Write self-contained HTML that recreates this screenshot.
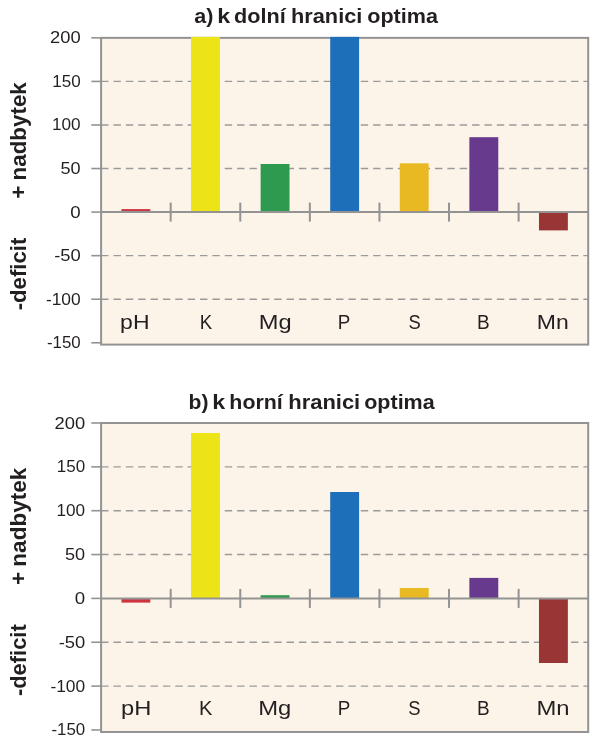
<!DOCTYPE html>
<html lang="cs">
<head>
<meta charset="utf-8">
<title>Graf</title>
<style>
html,body{margin:0;padding:0;background:#fff;}
svg{display:block;}
text{font-family:"Liberation Sans",sans-serif;fill:#231F20;}
.tk{font-size:16.4px;}
.xl{font-size:20.9px;}
.tt{font-size:20.5px;font-weight:bold;}
.yl{font-size:22.0px;font-weight:bold;}
</style>
</head>
<body>
<svg width="600" height="743" viewBox="0 0 600 743">
<rect x="0" y="0" width="600" height="743" fill="#ffffff"/>
<rect x="101.1" y="37.86" width="487.10" height="306.74" fill="#FCF4E9"/>
<line x1="101.1" y1="81.42" x2="588.2" y2="81.42" stroke="#9A9A9A" stroke-width="1.4" stroke-dasharray="7.4 4.966"/>
<line x1="101.1" y1="124.98" x2="588.2" y2="124.98" stroke="#9A9A9A" stroke-width="1.4" stroke-dasharray="7.4 4.966"/>
<line x1="101.1" y1="168.54" x2="588.2" y2="168.54" stroke="#9A9A9A" stroke-width="1.4" stroke-dasharray="7.4 4.966"/>
<line x1="101.1" y1="255.66" x2="588.2" y2="255.66" stroke="#9A9A9A" stroke-width="1.4" stroke-dasharray="7.4 4.966"/>
<line x1="101.1" y1="299.22" x2="588.2" y2="299.22" stroke="#9A9A9A" stroke-width="1.4" stroke-dasharray="7.4 4.966"/>
<rect x="101.1" y="37.86" width="487.10" height="306.74" fill="none" stroke="#939393" stroke-width="2"/>
<line x1="91.3" y1="37.86" x2="101.1" y2="37.86" stroke="#939393" stroke-width="1.6"/>
<line x1="91.3" y1="81.42" x2="101.1" y2="81.42" stroke="#939393" stroke-width="1.6"/>
<line x1="91.3" y1="124.98" x2="101.1" y2="124.98" stroke="#939393" stroke-width="1.6"/>
<line x1="91.3" y1="168.54" x2="101.1" y2="168.54" stroke="#939393" stroke-width="1.6"/>
<line x1="91.3" y1="212.10" x2="101.1" y2="212.10" stroke="#939393" stroke-width="1.6"/>
<line x1="91.3" y1="255.66" x2="101.1" y2="255.66" stroke="#939393" stroke-width="1.6"/>
<line x1="91.3" y1="299.22" x2="101.1" y2="299.22" stroke="#939393" stroke-width="1.6"/>
<line x1="91.3" y1="342.78" x2="101.1" y2="342.78" stroke="#939393" stroke-width="1.6"/>
<rect x="121.44" y="209.10" width="28.9" height="3.00" fill="#CE3440"/>
<rect x="191.03" y="36.90" width="28.9" height="175.20" fill="#ECE416"/>
<rect x="260.61" y="164.00" width="28.9" height="48.10" fill="#2E9A50"/>
<rect x="330.20" y="36.90" width="28.9" height="175.20" fill="#1C6FB8"/>
<rect x="399.79" y="163.30" width="28.9" height="48.80" fill="#E9B924"/>
<rect x="469.37" y="137.20" width="28.9" height="74.90" fill="#673A8E"/>
<rect x="538.96" y="212.10" width="28.9" height="18.30" fill="#993534"/>
<line x1="101.1" y1="212.10" x2="588.2" y2="212.10" stroke="#939393" stroke-width="2"/>
<line x1="170.69" y1="202.60" x2="170.69" y2="221.60" stroke="#939393" stroke-width="2"/>
<line x1="240.27" y1="202.60" x2="240.27" y2="221.60" stroke="#939393" stroke-width="2"/>
<line x1="309.86" y1="202.60" x2="309.86" y2="221.60" stroke="#939393" stroke-width="2"/>
<line x1="379.44" y1="202.60" x2="379.44" y2="221.60" stroke="#939393" stroke-width="2"/>
<line x1="449.03" y1="202.60" x2="449.03" y2="221.60" stroke="#939393" stroke-width="2"/>
<line x1="518.61" y1="202.60" x2="518.61" y2="221.60" stroke="#939393" stroke-width="2"/>
<rect x="101.1" y="423.00" width="487.10" height="309.00" fill="#FCF4E9"/>
<line x1="101.1" y1="466.85" x2="588.2" y2="466.85" stroke="#9A9A9A" stroke-width="1.4" stroke-dasharray="7.4 4.966"/>
<line x1="101.1" y1="510.70" x2="588.2" y2="510.70" stroke="#9A9A9A" stroke-width="1.4" stroke-dasharray="7.4 4.966"/>
<line x1="101.1" y1="554.55" x2="588.2" y2="554.55" stroke="#9A9A9A" stroke-width="1.4" stroke-dasharray="7.4 4.966"/>
<line x1="101.1" y1="642.25" x2="588.2" y2="642.25" stroke="#9A9A9A" stroke-width="1.4" stroke-dasharray="7.4 4.966"/>
<line x1="101.1" y1="686.10" x2="588.2" y2="686.10" stroke="#9A9A9A" stroke-width="1.4" stroke-dasharray="7.4 4.966"/>
<rect x="101.1" y="423.00" width="487.10" height="309.00" fill="none" stroke="#939393" stroke-width="2"/>
<line x1="91.3" y1="423.00" x2="101.1" y2="423.00" stroke="#939393" stroke-width="1.6"/>
<line x1="91.3" y1="466.85" x2="101.1" y2="466.85" stroke="#939393" stroke-width="1.6"/>
<line x1="91.3" y1="510.70" x2="101.1" y2="510.70" stroke="#939393" stroke-width="1.6"/>
<line x1="91.3" y1="554.55" x2="101.1" y2="554.55" stroke="#939393" stroke-width="1.6"/>
<line x1="91.3" y1="598.40" x2="101.1" y2="598.40" stroke="#939393" stroke-width="1.6"/>
<line x1="91.3" y1="642.25" x2="101.1" y2="642.25" stroke="#939393" stroke-width="1.6"/>
<line x1="91.3" y1="686.10" x2="101.1" y2="686.10" stroke="#939393" stroke-width="1.6"/>
<line x1="91.3" y1="729.95" x2="101.1" y2="729.95" stroke="#939393" stroke-width="1.6"/>
<rect x="121.44" y="598.40" width="28.9" height="4.20" fill="#CE3440"/>
<rect x="191.03" y="433.00" width="28.9" height="165.40" fill="#ECE416"/>
<rect x="260.61" y="595.20" width="28.9" height="3.20" fill="#2E9A50"/>
<rect x="330.20" y="492.00" width="28.9" height="106.40" fill="#1C6FB8"/>
<rect x="399.79" y="588.00" width="28.9" height="10.40" fill="#E9B924"/>
<rect x="469.37" y="577.90" width="28.9" height="20.50" fill="#673A8E"/>
<rect x="538.96" y="598.40" width="28.9" height="64.60" fill="#993534"/>
<line x1="101.1" y1="598.40" x2="588.2" y2="598.40" stroke="#939393" stroke-width="2"/>
<line x1="170.69" y1="588.90" x2="170.69" y2="607.90" stroke="#939393" stroke-width="2"/>
<line x1="240.27" y1="588.90" x2="240.27" y2="607.90" stroke="#939393" stroke-width="2"/>
<line x1="309.86" y1="588.90" x2="309.86" y2="607.90" stroke="#939393" stroke-width="2"/>
<line x1="379.44" y1="588.90" x2="379.44" y2="607.90" stroke="#939393" stroke-width="2"/>
<line x1="449.03" y1="588.90" x2="449.03" y2="607.90" stroke="#939393" stroke-width="2"/>
<line x1="518.61" y1="588.90" x2="518.61" y2="607.90" stroke="#939393" stroke-width="2"/>
<text class="tk" transform="translate(50.02 43.26) scale(1.1208 1)">200</text>
<text class="tk" transform="translate(54.52 428.50) scale(1.1208 1)">200</text>
<text class="tk" transform="translate(52.20 86.82) scale(1.0392 1)">150</text>
<text class="tk" transform="translate(56.70 472.35) scale(1.0392 1)">150</text>
<text class="tk" transform="translate(51.99 130.38) scale(1.0471 1)">100</text>
<text class="tk" transform="translate(56.49 516.20) scale(1.0471 1)">100</text>
<text class="tk" transform="translate(60.51 173.94) scale(1.1059 1)">50</text>
<text class="tk" transform="translate(65.01 560.05) scale(1.1059 1)">50</text>
<text class="tk" transform="translate(70.20 217.50) scale(1.1400 1)">0</text>
<text class="tk" transform="translate(74.70 603.90) scale(1.1400 1)">0</text>
<text class="tk" transform="translate(54.16 261.06) scale(1.1236 1)">-50</text>
<text class="tk" transform="translate(58.66 647.75) scale(1.1236 1)">-50</text>
<text class="tk" transform="translate(45.90 304.62) scale(1.0614 1)">-100</text>
<text class="tk" transform="translate(50.40 691.60) scale(1.0614 1)">-100</text>
<text class="tk" transform="translate(46.93 348.18) scale(1.0295 1)">-150</text>
<text class="tk" transform="translate(51.43 735.45) scale(1.0295 1)">-150</text>
<text class="xl" transform="translate(120.09 328.80) scale(1.1005 1)">pH</text>
<text class="xl" transform="translate(199.84 328.80) scale(0.8926 1)">K</text>
<text class="xl" transform="translate(258.72 328.80) scale(1.1324 1)">Mg</text>
<text class="xl" transform="translate(337.73 328.80) scale(0.8989 1)">P</text>
<text class="xl" transform="translate(408.49 328.80) scale(0.8800 1)">S</text>
<text class="xl" transform="translate(477.11 328.80) scale(0.9079 1)">B</text>
<text class="xl" transform="translate(536.77 328.80) scale(1.1014 1)">Mn</text>
<text class="xl" transform="translate(121.04 715.30) scale(1.1344 1)">pH</text>
<text class="xl" transform="translate(198.92 715.30) scale(0.9600 1)">K</text>
<text class="xl" transform="translate(258.26 715.30) scale(1.1400 1)">Mg</text>
<text class="xl" transform="translate(337.73 715.30) scale(0.8989 1)">P</text>
<text class="xl" transform="translate(408.14 715.30) scale(0.8800 1)">S</text>
<text class="xl" transform="translate(477.11 715.30) scale(0.9079 1)">B</text>
<text class="xl" transform="translate(536.41 715.30) scale(1.1400 1)">Mn</text>
<text class="tt" transform="translate(194.34 23.10) scale(1.0526 1)">a)</text>
<text class="tt" transform="translate(217.13 23.10) scale(1.1400 1)">k</text>
<text class="tt" transform="translate(234.08 23.10) scale(1.0550 1)">dolní</text>
<text class="tt" transform="translate(291.04 23.10) scale(1.0610 1)">hranici</text>
<text class="tt" transform="translate(367.21 23.10) scale(1.0526 1)">optima</text>
<text class="tt" transform="translate(188.58 409.30) scale(1.0294 1)">b)</text>
<text class="tt" transform="translate(212.33 409.30) scale(1.1400 1)">k</text>
<text class="tt" transform="translate(229.37 409.30) scale(1.0422 1)">horní</text>
<text class="tt" transform="translate(288.23 409.30) scale(1.0718 1)">hranici</text>
<text class="tt" transform="translate(364.21 409.30) scale(1.0496 1)">optima</text>
<text class="yl" transform="translate(26.20 310.28) rotate(-90) scale(1.0070 1)">-deficit</text>
<text class="yl" transform="translate(26.20 696.07) rotate(-90) scale(0.9958 1)">-deficit</text>
<text class="yl" transform="translate(26.20 198.63) rotate(-90) scale(1.0168 1)">+<tspan dx="-1"> nadbytek</tspan></text>
<text class="yl" transform="translate(26.20 585.09) rotate(-90) scale(1.0253 1)">+<tspan dx="-1"> nadbytek</tspan></text>
</svg>
</body>
</html>
